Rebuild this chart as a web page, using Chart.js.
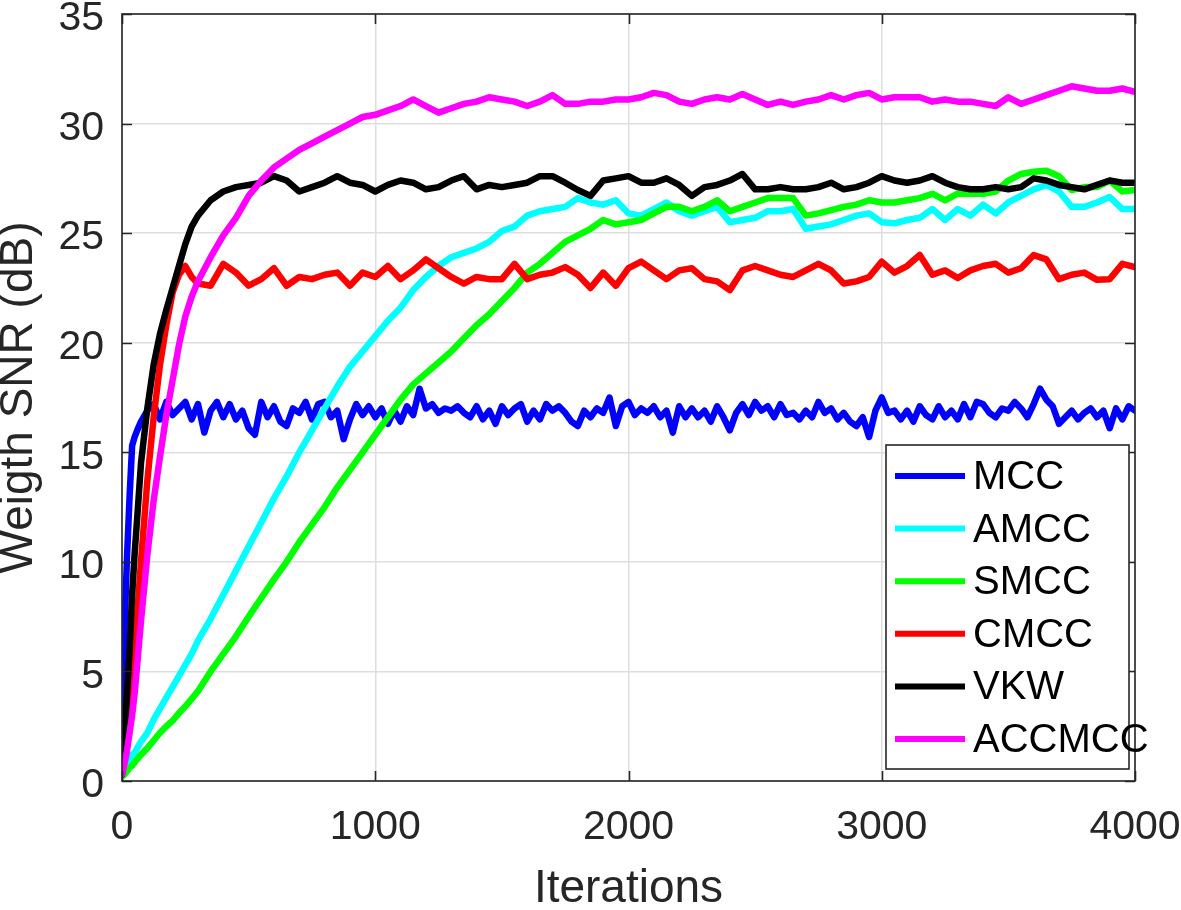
<!DOCTYPE html>
<html>
<head>
<meta charset="utf-8">
<script src="https://cdn.jsdelivr.net/npm/chart.js@4"></script>
<style>
  html, body { margin: 0; padding: 0; background: #fff; }
  canvas { display: block; }
</style>
</head>
<body>
<canvas id="chartSNR" width="1181" height="910"></canvas>
<script>
// Iterations (x) - denser near zero where curves rise fast
const iterations = [0, 10, 20, 30, 40, 50, 60, 75, 100, 125, 150, 175, 200, 225, 250, 275, 300,
  350, 400, 450, 500, 550, 600, 650, 700, 750, 800,
  850, 900, 950, 1000, 1050, 1100, 1150, 1200, 1250, 1300,
  1350, 1400, 1450, 1500, 1550, 1600, 1650, 1700, 1750, 1800,
  1850, 1900, 1950, 2000, 2050, 2100, 2150, 2200, 2250, 2300,
  2350, 2400, 2450, 2500, 2550, 2600, 2650, 2700, 2750, 2800,
  2850, 2900, 2950, 3000, 3050, 3100, 3150, 3200, 3250, 3300,
  3350, 3400, 3450, 3500, 3550, 3600, 3650, 3700, 3750, 3800,
  3850, 3900, 3950, 4000];

// MCC est tres bruite : pas de 25 iterations
const iterationsMcc = [0, 10, 20, 30, 40, 50, 60, 75, 100, 125, 150, 175, 200, 225, 250, 275,
  300, 325, 350, 375, 400, 425, 450, 475,
  500, 525, 550, 575, 600, 625, 650, 675,
  700, 725, 750, 775, 800, 825, 850, 875,
  900, 925, 950, 975, 1000, 1025, 1050, 1075,
  1100, 1125, 1150, 1175, 1200, 1225, 1250, 1275,
  1300, 1325, 1350, 1375, 1400, 1425, 1450, 1475,
  1500, 1525, 1550, 1575, 1600, 1625, 1650, 1675,
  1700, 1725, 1750, 1775, 1800, 1825, 1850, 1875,
  1900, 1925, 1950, 1975, 2000, 2025, 2050, 2075,
  2100, 2125, 2150, 2175, 2200, 2225, 2250, 2275,
  2300, 2325, 2350, 2375, 2400, 2425, 2450, 2475,
  2500, 2525, 2550, 2575, 2600, 2625, 2650, 2675,
  2700, 2725, 2750, 2775, 2800, 2825, 2850, 2875,
  2900, 2925, 2950, 2975, 3000, 3025, 3050, 3075,
  3100, 3125, 3150, 3175, 3200, 3225, 3250, 3275,
  3300, 3325, 3350, 3375, 3400, 3425, 3450, 3475,
  3500, 3525, 3550, 3575, 3600, 3625, 3650, 3675,
  3700, 3725, 3750, 3775, 3800, 3825, 3850, 3875,
  3900, 3925, 3950, 3975, 4000];

const mcc = [0.3, 7.0, 10.3, 13.0, 15.3, 15.7, 16.0, 16.4, 16.9, 17.2, 16.5, 17.3, 16.7, 17.0, 17.3, 16.5,
  17.2, 15.9, 16.9, 17.3, 16.6, 17.2, 16.5, 16.9,
  16.1, 15.8, 17.3, 16.6, 17.1, 16.4, 16.2, 17.0,
  16.8, 17.3, 16.5, 17.2, 17.3, 16.6, 16.9, 15.6,
  16.5, 17.2, 16.7, 17.1, 16.6, 17.0, 16.3, 16.9,
  16.4, 17.1, 16.7, 17.9, 17.0, 17.2, 16.8, 17.0,
  16.9, 17.1, 16.8, 16.6, 17.1, 16.5, 16.9, 16.3,
  17.1, 16.7, 17.0, 17.2, 16.4, 16.9, 16.5, 17.2,
  16.9, 17.1, 16.8, 16.4, 16.2, 16.9, 16.6, 17.0,
  16.8, 17.5, 16.2, 17.1, 17.3, 16.7, 17.0, 16.8,
  17.1, 16.6, 16.9, 15.9, 17.1, 16.6, 17.0, 16.6,
  16.9, 16.4, 17.1, 16.6, 16.0, 16.8, 17.2, 16.7,
  17.3, 16.9, 17.1, 16.6, 17.2, 16.7, 16.8, 16.5,
  16.9, 16.6, 17.3, 16.8, 17.0, 16.5, 16.8, 16.4,
  16.2, 16.6, 15.7, 16.9, 17.5, 16.8, 16.9, 16.5,
  16.9, 16.4, 17.1, 16.7, 16.5, 17.1, 16.6, 16.9,
  16.5, 17.2, 16.6, 17.3, 17.2, 16.8, 16.6, 17.0,
  16.9, 17.3, 17.0, 16.6, 17.2, 17.9, 17.4, 17.1,
  16.3, 16.6, 16.9, 16.5, 16.8, 17.0, 16.6, 16.9,
  16.1, 17.0, 16.5, 17.1, 16.9];

const amcc = [0.3, 0.6, 0.8, 1.0, 1.2, 1.3, 1.5, 1.8, 2.2, 2.8, 3.3, 3.8, 4.3, 4.8, 5.3, 5.8, 6.4,
  7.4, 8.5, 9.6, 10.7, 11.8, 12.9, 13.9, 15.0, 16.0, 17.0,
  18.0, 18.9, 19.6, 20.3, 21.0, 21.6, 22.4, 23.0, 23.5, 23.9,
  24.1, 24.3, 24.6, 25.1, 25.3, 25.8, 26.0, 26.1, 26.2, 26.6,
  26.4, 26.3, 26.5, 25.9, 25.8, 26.1, 26.4, 26.0, 25.8, 26.0,
  26.2, 25.5, 25.6, 25.7, 26.0, 26.0, 26.1, 25.2, 25.3, 25.4,
  25.6, 25.8, 25.9, 25.5, 25.45, 25.6, 25.7, 26.1, 25.6, 26.1,
  25.8, 26.3, 25.9, 26.4, 26.7, 27.0, 27.2, 26.9, 26.2, 26.2,
  26.4, 26.65, 26.1, 26.1];

const smcc = [0.2, 0.3, 0.45, 0.6, 0.7, 0.85, 1.0, 1.2, 1.5, 1.85, 2.2, 2.5, 2.75, 3.1, 3.4, 3.75, 4.1,
  5.0, 5.8, 6.6, 7.5, 8.35, 9.2, 10.0, 10.9, 11.7, 12.5,
  13.4, 14.2, 15.0, 15.8, 16.6, 17.4, 18.1, 18.6, 19.1, 19.6,
  20.2, 20.8, 21.3, 21.9, 22.5, 23.2, 23.6, 24.1, 24.6, 24.9,
  25.2, 25.6, 25.4, 25.5, 25.6, 25.9, 26.2, 26.2, 26.0, 26.2,
  26.5, 26.0, 26.2, 26.4, 26.6, 26.6, 26.6, 25.8, 25.9, 26.05,
  26.2, 26.3, 26.5, 26.4, 26.4, 26.5, 26.6, 26.8, 26.5, 26.8,
  26.8, 26.8, 26.9, 27.4, 27.7, 27.8, 27.85, 27.6, 26.97, 27.1,
  27.1, 27.4, 26.9, 26.97];

const cmcc = [0.3, 1.3, 2.4, 3.5, 4.7, 6.2, 7.6, 10.0, 13.7, 16.6, 19.0, 20.8, 22.3, 23.1, 23.5, 23.0, 22.7,
  22.6, 23.6, 23.2, 22.6, 22.9, 23.4, 22.6, 23.0, 22.9, 23.1,
  23.2, 22.6, 23.2, 23.0, 23.5, 22.9, 23.3, 23.8, 23.4, 23.0,
  22.7, 23.0, 22.9, 22.9, 23.6, 22.9, 23.1, 23.2, 23.45, 23.1,
  22.5, 23.2, 22.6, 23.4, 23.7, 23.3, 22.9, 23.3, 23.4, 22.9,
  22.8, 22.4, 23.3, 23.5, 23.3, 23.1, 23.0, 23.3, 23.6, 23.3,
  22.7, 22.8, 23.0, 23.7, 23.2, 23.5, 24.0, 23.1, 23.3, 22.95,
  23.3, 23.5, 23.6, 23.2, 23.4, 24.0, 23.8, 22.9, 23.1, 23.2,
  22.87, 22.9, 23.6, 23.45];

const vkw = [0.3, 2.0, 4.0, 6.0, 8.5, 10.4, 12.0, 14.5, 17.0, 19.0, 20.4, 21.5, 22.5, 23.5, 24.5, 25.3, 25.8,
  26.5, 26.9, 27.1, 27.2, 27.3, 27.6, 27.4, 26.9, 27.1, 27.3,
  27.6, 27.3, 27.2, 26.9, 27.2, 27.4, 27.3, 27.0, 27.1, 27.4,
  27.6, 27.0, 27.2, 27.1, 27.2, 27.3, 27.6, 27.6, 27.3, 26.97,
  26.7, 27.4, 27.5, 27.6, 27.3, 27.3, 27.5, 27.2, 26.7, 27.1,
  27.2, 27.4, 27.7, 27.0, 27.0, 27.1, 27.0, 27.0, 27.1, 27.3,
  27.0, 27.1, 27.3, 27.6, 27.4, 27.3, 27.4, 27.6, 27.3, 27.1,
  27.0, 27.0, 27.1, 27.0, 27.1, 27.5, 27.4, 27.2, 27.1, 27.0,
  27.2, 27.4, 27.3, 27.3];

const accmcc = [0.3, 0.8, 1.4, 2.2, 3.0, 4.0, 5.3, 7.3, 10.3, 12.8, 14.8, 16.7, 18.3, 19.9, 21.2, 22.1, 22.8,
  23.9, 24.9, 25.7, 26.7, 27.4, 28.0, 28.4, 28.8, 29.1, 29.4,
  29.7, 30.0, 30.3, 30.4, 30.6, 30.8, 31.1, 30.8, 30.5, 30.7,
  30.9, 31.0, 31.2, 31.1, 31.0, 30.8, 31.0, 31.3, 30.9, 30.9,
  31.0, 31.0, 31.1, 31.1, 31.2, 31.4, 31.3, 31.0, 30.9, 31.1,
  31.2, 31.1, 31.35, 31.1, 30.85, 31.0, 30.85, 31.0, 31.1, 31.3,
  31.1, 31.3, 31.4, 31.1, 31.2, 31.2, 31.2, 31.0, 31.1, 31.0,
  31.0, 30.9, 30.8, 31.2, 30.9, 31.1, 31.3, 31.5, 31.7, 31.6,
  31.5, 31.5, 31.6, 31.45];

const noms = ["MCC", "AMCC", "SMCC", "CMCC", "VKW", "ACCMCC"];
const series = [mcc, amcc, smcc, cmcc, vkw, accmcc];
const abscisses = [iterationsMcc, iterations, iterations, iterations, iterations, iterations];
const couleurs = ["#0000ff", "#00ffff", "#00ff00", "#ff0000", "#000000", "#ff00ff"];

const police = "'Liberation Sans', Arial, Helvetica, sans-serif";

// zone de trace voulue (pixels)
const zone = { left: 122, top: 14, right: 1135, bottom: 781 };

// cadre + petites graduations vers l'interieur (style MATLAB)
const cadre = {
  id: "cadre",
  afterDatasetsDraw(chart) {
    const { ctx, chartArea: a, scales: { x, y } } = chart;
    ctx.save();
    ctx.strokeStyle = "#262626";
    ctx.lineWidth = 1.6;
    ctx.beginPath();
    x.ticks.forEach(t => {
      const px = Math.round(x.getPixelForValue(t.value)) + 0.5;
      ctx.moveTo(px, a.bottom); ctx.lineTo(px, a.bottom - 10);
      ctx.moveTo(px, a.top); ctx.lineTo(px, a.top + 10);
    });
    y.ticks.forEach(t => {
      const py = Math.round(y.getPixelForValue(t.value)) + 0.5;
      ctx.moveTo(a.left, py); ctx.lineTo(a.left + 10, py);
      ctx.moveTo(a.right, py); ctx.lineTo(a.right - 10, py);
    });
    ctx.stroke();
    ctx.strokeRect(a.left, a.top, a.right - a.left, a.bottom - a.top);
    ctx.restore();
  }
};

// legende dans le coin bas-droit
const legende = {
  id: "legende",
  afterDraw(chart) {
    const { ctx, chartArea: a } = chart;
    const bx = a.right - 249, by = a.bottom - 336, bw = 243, bh = 324;
    ctx.save();
    ctx.fillStyle = "#ffffff";
    ctx.fillRect(bx, by, bw, bh);
    ctx.strokeStyle = "#262626";
    ctx.lineWidth = 1.6;
    ctx.strokeRect(bx, by, bw, bh);
    ctx.font = "40px " + police;
    ctx.textBaseline = "middle";
    ctx.textAlign = "left";
    noms.forEach((nom, i) => {
      const ly = by + 31 + i * 52.6;
      ctx.strokeStyle = couleurs[i];
      ctx.lineWidth = 6;
      ctx.beginPath();
      ctx.moveTo(bx + 9, ly);
      ctx.lineTo(bx + 79, ly);
      ctx.stroke();
      ctx.fillStyle = "#000000";
      ctx.fillText(nom, bx + 87, ly + 2);
    });
    ctx.restore();
  }
};

const ctxS = document.getElementById("chartSNR");

const graphique = new Chart(ctxS, {
  type: "line",
  data: {
    datasets: series.map((valeurs, i) => ({
      label: noms[i],
      data: abscisses[i].map((it, k) => ({ x: it, y: valeurs[k] })),
      borderColor: couleurs[i],
      backgroundColor: couleurs[i],
      borderWidth: 6.5,
      pointRadius: 0,
      tension: 0,
      borderJoinStyle: "round",
      borderCapStyle: "round",
      order: series.length - i
    }))
  },
  options: {
    responsive: false,
    animation: false,
    layout: { padding: { top: 14, right: 46, left: 0, bottom: 0 } },
    plugins: {
      legend: { display: false },
      tooltip: { enabled: false }
    },
    scales: {
      x: {
        type: "linear",
        min: 0,
        max: 4000,
        afterFit: s => { s.height = 129; },
        ticks: {
          stepSize: 1000,
          color: "#262626",
          font: { family: police, size: 41, lineHeight: 1 },
          padding: 0,
          maxRotation: 0,
          callback: v => String(v)
        },
        // tick marks invisibles : servent seulement d'ecart pour les etiquettes
        grid: { color: "#dedede", lineWidth: 1.5, drawTicks: true, tickLength: 26, tickColor: "rgba(0,0,0,0)" },
        border: { display: false },
        title: {
          display: true,
          text: "Iterations",
          color: "#262626",
          font: { family: police, size: 46, lineHeight: 0.9 },
          padding: 0
        }
      },
      y: {
        min: 0,
        max: 35,
        afterFit: s => { s.width = 122; },
        ticks: {
          stepSize: 5,
          color: "#262626",
          font: { family: police, size: 41, lineHeight: 0.6 },
          padding: 0,
          labelOffset: 5,
          callback: v => String(v)
        },
        grid: { color: "#dedede", lineWidth: 1.5, drawTicks: true, tickLength: 18, tickColor: "rgba(0,0,0,0)" },
        border: { display: false },
        title: {
          display: true,
          text: "Weigth SNR (dB)",
          color: "#262626",
          font: { family: police, size: 46, lineHeight: 0.85 },
          padding: 0
        }
      }
    }
  },
  plugins: [cadre, legende]
});

// recale la zone de trace sur celle de la figure d'origine
for (let passe = 0; passe < 3; passe++) {
  const a = graphique.chartArea;
  const p = graphique.options.layout.padding;
  p.top += zone.top - a.top;
  p.right += a.right - zone.right;
  p.bottom += a.bottom - zone.bottom;
  graphique.update();
}
</script>
</body>
</html>
